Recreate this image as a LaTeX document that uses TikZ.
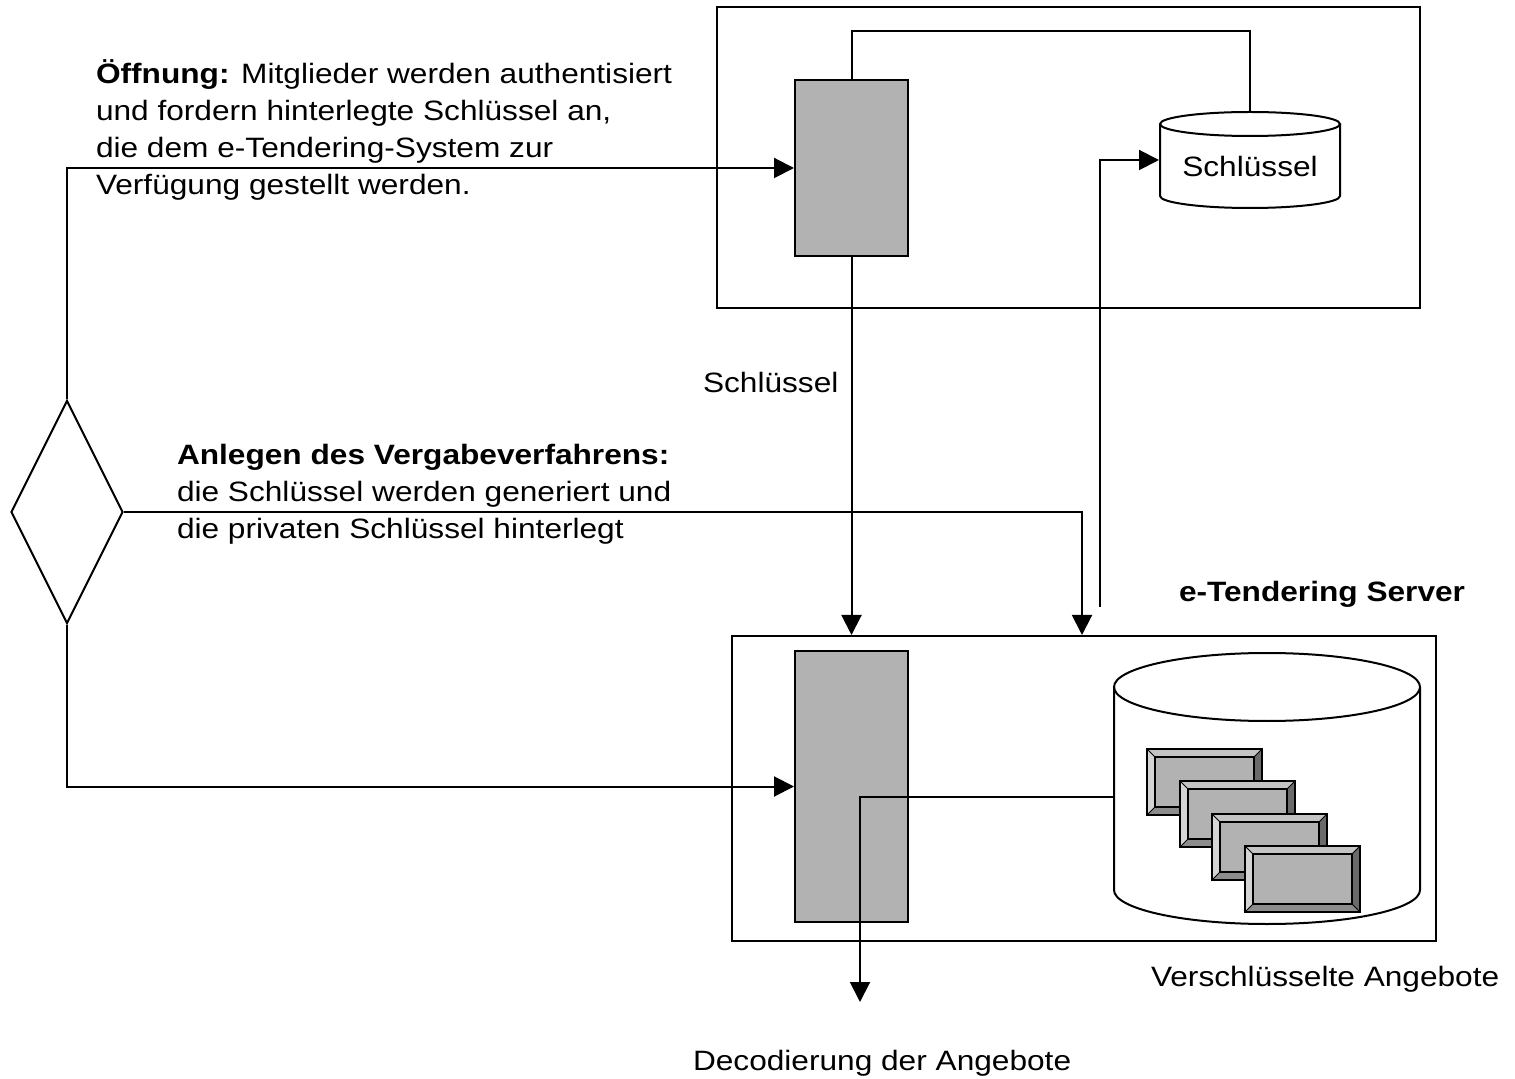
\documentclass[tikz,border=0pt]{standalone}
\usepackage{fontspec}
\setmainfont{Liberation Sans}[FakeStretch=1.13]
\usetikzlibrary{arrows.meta,shapes.geometric,calc}
\definecolor{boxgray}{HTML}{B2B2B2}
\definecolor{bvtop}{HTML}{C4C4C4}
\definecolor{bvleft}{HTML}{D4D4D4}
\definecolor{bvbottom}{HTML}{8C8C8C}
\definecolor{bvright}{HTML}{6A6A6A}
\newcommand\bevelbox[2]{%
  \begin{scope}[shift={(#1,#2)}]
    \fill[boxgray] (0,0) rectangle (115,66);
    \fill[bvtop] (0,0) -- (115,0) -- (107,8) -- (8,8) -- cycle;
    \fill[bvleft] (0,0) -- (8,8) -- (8,58) -- (0,66) -- cycle;
    \fill[bvbottom] (0,66) -- (8,58) -- (107,58) -- (115,66) -- cycle;
    \fill[bvright] (115,0) -- (107,8) -- (107,58) -- (115,66) -- cycle;
    \draw[line width=0.5pt] (0,0) -- (8,8) (115,0) -- (107,8) (0,66) -- (8,58) (115,66) -- (107,58);
    \draw[line width=0.8pt] (8,8) rectangle (107,58);
    \draw[line width=1.2pt] (0,0) rectangle (115,66);
  \end{scope}}
\begin{document}
\begin{tikzpicture}[x=0.5pt,y=-0.5pt,
  line width=1pt,
  every node/.style={font=\fontsize{14pt}{18.5pt}\selectfont},
  frame/.style={draw,rectangle,inner sep=0pt,line width=1pt},
  proc/.style={draw,rectangle,fill=boxgray,inner sep=0pt,line width=1pt},
  ghost/.style={rectangle,inner sep=0pt},
  label/.style={inner sep=0pt,anchor=base west,align=left},
  conn/.style={-{Triangle[length=10pt,width=10pt]}},
  plain/.style={-}]
\useasboundingbox (0,0) rectangle (1515,1079);
% boxes
\node[frame,minimum width=351.5pt,minimum height=150.5pt] (topbox) at (1068.5,157.5) {};
\node[frame,minimum width=352pt,minimum height=152.5pt] (server) at (1084,788.5) {};
\node[proc,minimum width=56.5pt,minimum height=88pt] (g1) at (851.5,168) {};
\node[proc,minimum width=56.5pt,minimum height=135.5pt] (g2) at (851.5,786.5) {};
\node[draw,diamond,inner sep=0pt,minimum width=56pt,minimum height=111.5pt,line width=1pt] (dia) at (67,512) {};
% small key cylinder
\node[ghost,minimum width=90pt,minimum height=48pt] (kc) at (1250,160) {};
\draw[fill=white] (1160,124) -- (1160,196) arc[start angle=180,end angle=0,x radius=90,y radius=12] -- (1340,124);
\draw (1250,124) ellipse [x radius=90,y radius=12];
\node[inner sep=0pt,anchor=base] (kctext) at (1250,177) {Schlüssel};
% big cylinder
\node[ghost,minimum width=153pt,minimum height=144pt] (bc) at (1267,797) {};
\draw[fill=white] (1114,687) -- (1114,890) arc[start angle=180,end angle=0,x radius=153,y radius=34] -- (1420,687);
\draw (1267,687) ellipse [x radius=153,y radius=34];
\bevelbox{1147}{749}
\bevelbox{1180}{781}
\bevelbox{1212}{814}
\bevelbox{1245}{846}
% coordinates
\coordinate (kin) at (1100,607);
\coordinate (dec) at (860,1002);
\coordinate (srvin) at ($(server.north west)+(351,0)$);
% connectors
\draw[conn] (dia.north) |- (g1.west);
\draw[conn] (dia.east) -| (srvin);
\draw[conn] (dia.south) |- (g2.west);
\draw[conn] (g1.south) -- (g1.south |- server.north);
\draw[plain] (g1.north) -- ++(0,-48) -| (kc.north);
\draw[conn] (kin) |- (kc.west);
\draw[conn] ($(bc.west)$) -| (dec);
% labels
\node[label] (t1) at (95,195) {\textbf{Öffnung:} Mitglieder werden authentisiert\\und fordern hinterlegte Schlüssel an,\\die dem e-Tendering-System zur\\Verfügung gestellt werden.};
\node[label] (t2) at (176,539) {\textbf{Anlegen des Vergabeverfahrens:}\\die Schlüssel werden generiert und\\die privaten Schlüssel hinterlegt};
\node[label] (t3) at (702,393) {Schlüssel};
\node[label] (t4) at (1178,602) {\textbf{e-Tendering Server}};
\node[label] (t5) at (1150,986) {Verschlüsselte Angebote};
\node[label] (t6) at (692,1070) {Decodierung der Angebote};
\end{tikzpicture}
\end{document}
